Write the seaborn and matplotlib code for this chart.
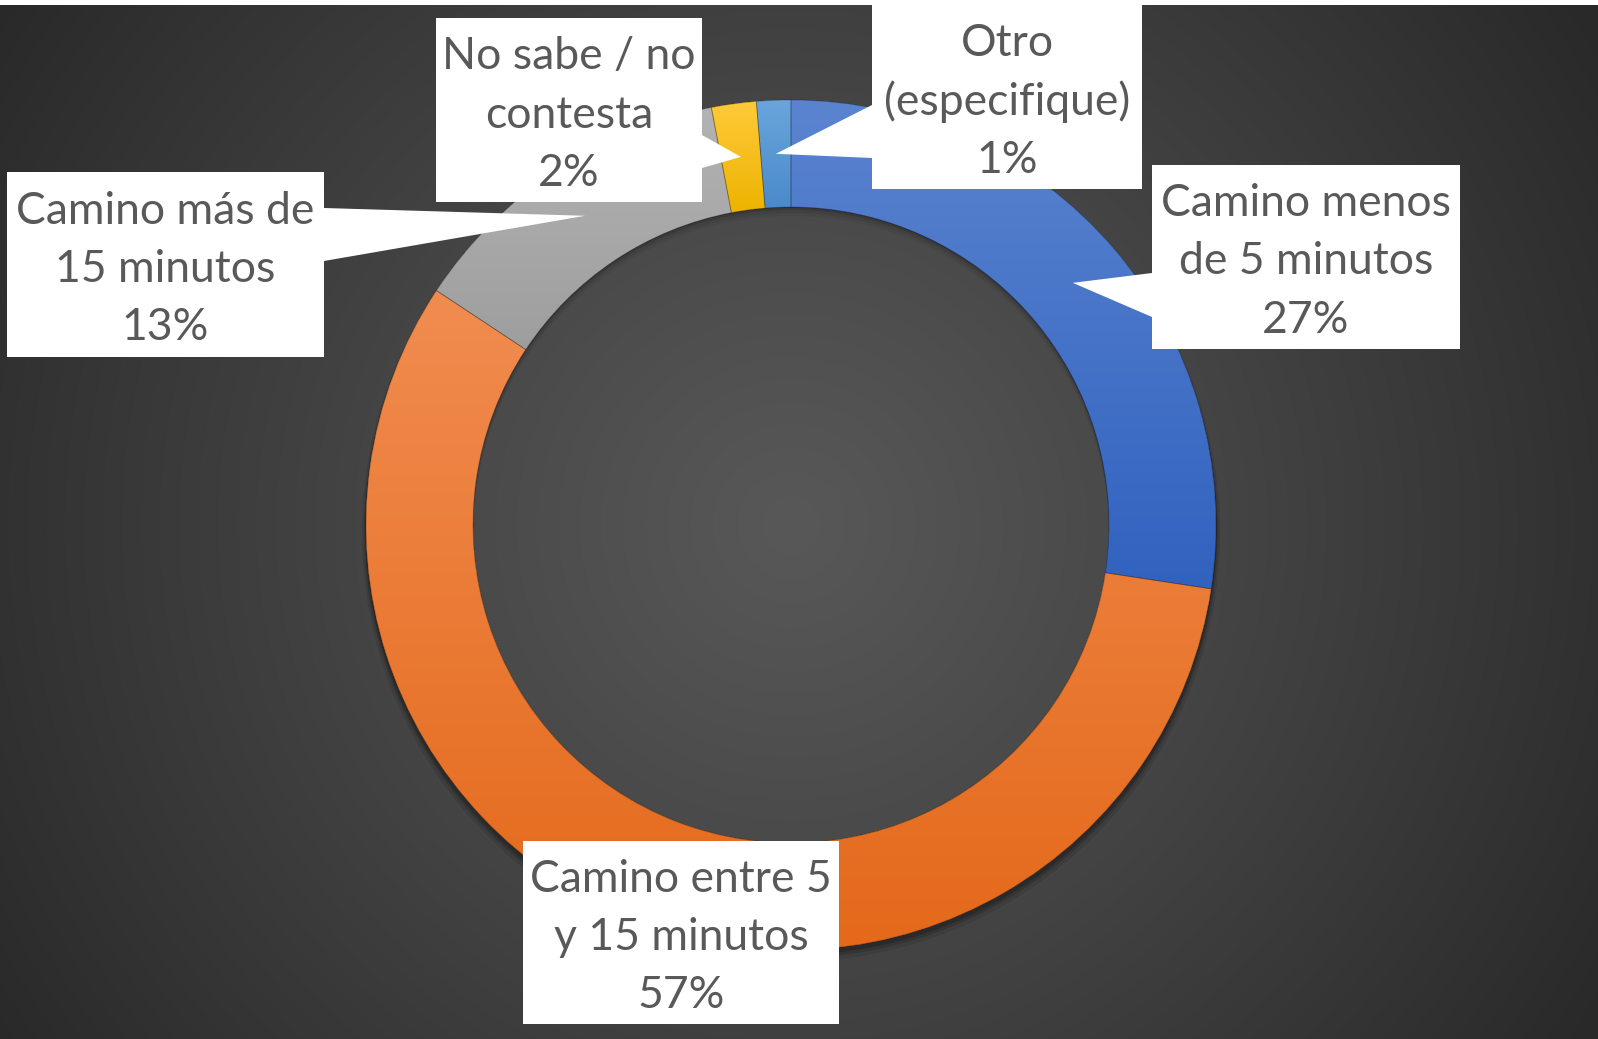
import numpy as np
import matplotlib
matplotlib.use("Agg")
import matplotlib.pyplot as plt
from matplotlib.patches import Polygon, Rectangle, Circle, Wedge
import matplotlib.colors as mcolors
import seaborn as sns

# datos
categorias = ["Camino menos\nde 5 minutos", "Camino entre 5\ny 15 minutos",
              "Camino más de\n15 minutos", "No sabe / no\ncontesta", "Otro\n(especifique)"]
valores = [27.4, 56.9, 12.7, 1.7, 1.3]
porcentajes = ["27%", "57%", "13%", "2%", "1%"]

# estilo
colores = ["#4472C4", "#ED7D31", "#A5A5A5", "#FFC000", "#5B9BD5"]
colores_sup = ["#5B84D0", "#F18C50", "#B3B3B3", "#FFCA3A", "#6AA6DC"]
colores_inf = ["#3062BF", "#E4691A", "#9E9E9E", "#EDB300", "#4A8ACB"]

W, H = 1598, 1039
CX, CY = 791, 525          # centro del anillo (px desde arriba)
R_OUT, R_IN = 425, 318

# cajas de etiquetas: (x0, y0, x1, y1) y base del puntero en el borde
cajas = [
    (1152, 165, 1460, 349),
    (523, 841, 839, 1024),
    (7, 172, 324, 357),
    (436, 18, 702, 202),
    (872, 5, 1142, 189),
]
bases = [
    [(1152, 273), (1152, 317)],
    None,
    [(324, 208), (324, 261)],
    [(702, 135), (702, 168)],
    [(872, 105), (872, 158)],
]

sns.set_theme(style="white")
plt.rcParams['font.family'] = ['Lato', 'DejaVu Sans']

fig = plt.figure(figsize=(W / 100, H / 100), dpi=100)
ax = fig.add_axes([0, 0, 1, 1])

def Y(y):
    return H - y

# fondo con degradado radial
yy, xx = np.mgrid[0:H, 0:W]
r = np.hypot(xx - CX, yy - CY) / np.hypot(CX, CY)
v = (0x58 - (0x58 - 0x29) * np.clip(r, 0, 1) ** 1.1) / 255.0
bg = np.dstack([v, v, v])
ax.imshow(bg, extent=(0, W, 0, H), origin="upper", zorder=0)

# sombra exterior (solo un anillo, no rellena el hueco)
for d, extra, a in [(8, 4, 0.10), (6, 2, 0.14), (4, 1, 0.18)]:
    ax.add_patch(Wedge((CX, Y(CY + d)), R_OUT + extra, 0, 360, width=R_OUT + extra - R_IN - 20,
                       facecolor="black", alpha=a, lw=0, zorder=1))

wedges, _ = ax.pie(valores, colors=colores, startangle=90, counterclock=False,
                   radius=R_OUT, center=(CX, Y(CY)), frame=True,
                   wedgeprops=dict(width=R_OUT - R_IN, edgecolor="none"))
for w in wedges:
    w.set_zorder(2)

# degradado vertical en cada sector
for w, c_sup, c_inf in zip(wedges, colores_sup, colores_inf):
    bb = w.get_path().get_extents()
    c0 = np.array(mcolors.to_rgb(c_inf))
    c1 = np.array(mcolors.to_rgb(c_sup))
    t = np.linspace(0, 1, 256)[:, None]
    grad = (c0 + (c1 - c0) * t)[:, None, :]
    grad = np.repeat(grad, 2, axis=1)
    im = ax.imshow(grad, extent=(bb.x0, bb.x1, bb.y0, bb.y1), origin="lower",
                   aspect="auto", zorder=3, interpolation="bilinear")
    im.set_clip_path(w)
    # linea fina entre sectores
    ax.add_patch(Wedge(w.center, w.r, w.theta1, w.theta2, width=w.width,
                       facecolor="none", edgecolor=(0, 0, 0, 0.25), lw=0.6, zorder=4))

# sombra dentro del hueco, bajo el borde superior
for d, a in [(9, 0.05), (6, 0.07), (3, 0.10), (1, 0.12)]:
    sh = Wedge((CX, Y(CY + d)), R_OUT, 0, 360, width=R_OUT - R_IN,
               facecolor="black", alpha=a, lw=0, zorder=5)
    ax.add_patch(sh)
    sh.set_clip_path(Circle((CX, Y(CY)), R_IN, transform=ax.transData))

# etiquetas con puntero
total = sum(valores)
acum = 0
r_mid = (R_OUT + R_IN) / 2
for i, (cat, pct) in enumerate(zip(categorias, porcentajes)):
    ang = 360 * (acum + valores[i] / 2) / total   # horario desde arriba
    acum += valores[i]
    x0, y0, x1, y1 = cajas[i]
    ax.add_patch(Rectangle((x0, Y(y1)), x1 - x0, y1 - y0, facecolor="white",
                           edgecolor="none", zorder=6))
    if bases[i] is not None:
        tx = CX + r_mid * np.sin(np.radians(ang))
        ty = CY - r_mid * np.cos(np.radians(ang))
        (bx0, by0), (bx1, by1) = bases[i]
        ax.add_patch(Polygon([(bx0, Y(by0)), (tx, Y(ty)), (bx1, Y(by1))],
                             closed=True, facecolor="white", edgecolor="none", zorder=6))
    lineas = cat.split("\n") + [pct]
    xc = (x0 + x1) / 2
    yc = (y0 + y1) / 2 + 5
    for k, txt in enumerate(lineas):
        ax.text(xc, Y(yc + (k - 1) * 58.5), txt, ha="center", va="center",
                fontsize=32, color="#595959", zorder=7)

# franja blanca superior
ax.add_patch(Rectangle((0, Y(5)), W, 5, facecolor="white", edgecolor="none", zorder=8))

ax.set_xlim(0, W)
ax.set_ylim(0, H)
ax.set_aspect("equal")
ax.axis("off")

fig.savefig("out.png", dpi=100)
